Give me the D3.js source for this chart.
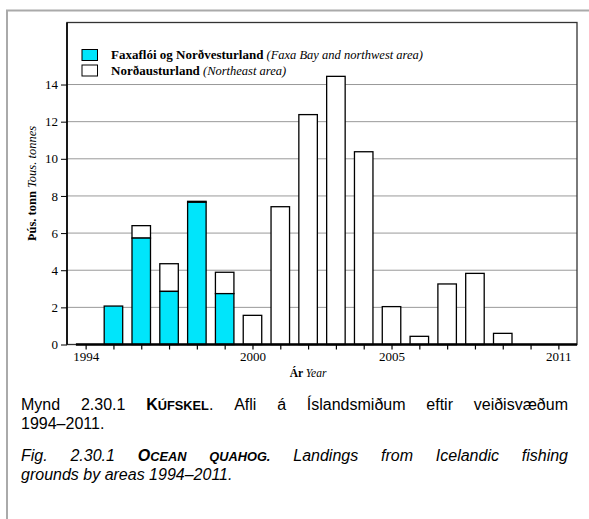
<!DOCTYPE html>
<html><head><meta charset="utf-8">
<script src="https://cdn.jsdelivr.net/npm/d3@7"></script>
<style>body{margin:0;background:#fff}svg{display:block}</style>
</head><body>
<svg id="c" width="589" height="519"></svg>
<script>
const years = [1994,1995,1996,1997,1998,1999,2000,2001,2002,2003,2004,2005,2006,2007,2008,2009,2010,2011];
const faxafloi = [0,2.07,5.73,2.86,7.66,2.74,0,0,0,0,0,0,0,0,0,0,0,0];
const nordaustur = [0,0,0.67,1.49,0.05,1.15,1.57,7.42,12.38,14.44,10.38,2.04,0.44,3.26,3.83,0.60,0,0];
const yTicks = [0,2,4,6,8,10,12,14];
const xLabels = [1994,2000,2005,2011];

const svg = d3.select("#c");
const serif = "'Liberation Serif','Times New Roman',serif";
const sans = "'Liberation Sans',Arial,sans-serif";

// outer frame
svg.append("path").attr("d","M7,519 V10.5 H589").attr("fill","none").attr("stroke","#aaa").attr("stroke-width",2);

const L=67, R=577, T=22.5, B=344.5;
const x = d3.scaleLinear().domain([1993.33,2011.67]).range([L,R]);
const y = d3.scaleLinear().domain([0,17.34]).range([B,T]);
const bw = 18.5;

// gridlines
svg.append("g").selectAll("line").data(yTicks.filter(d=>d>0)).join("line")
  .attr("x1",L).attr("x2",R).attr("y1",d=>y(d)).attr("y2",d=>y(d))
  .attr("stroke","#999").attr("stroke-width",1);

// bars
const g = svg.append("g");
years.forEach((yr,i)=>{
  const a = faxafloi[i], b = nordaustur[i];
  if (a+b<=0) return;
  if (b>0) g.append("rect").attr("x",x(yr)-bw/2).attr("y",y(a+b)).attr("width",bw).attr("height",y(a)-y(a+b))
    .attr("fill","#fff").attr("stroke","#000").attr("stroke-width",1.3);
  if (a>0) g.append("rect").attr("x",x(yr)-bw/2).attr("y",y(a)).attr("width",bw).attr("height",y(0)-y(a))
    .attr("fill","#00e5fb").attr("stroke","#000").attr("stroke-width",1.3);
});

// plot frame
svg.append("rect").attr("x",L).attr("y",T).attr("width",R-L).attr("height",B-T)
  .attr("fill","none").attr("stroke","#333").attr("stroke-width",1.3);
svg.append("line").attr("x1",L).attr("x2",L).attr("y1",T).attr("y2",B).attr("stroke","#000").attr("stroke-width",1.6);

// y axis
const ya = svg.append("g").attr("transform",`translate(${L},0)`)
  .call(d3.axisLeft(y).tickValues(yTicks).tickSize(6).tickPadding(3).tickFormat(d3.format("d")));
ya.select(".domain").remove();
ya.attr("font-family",serif).attr("font-size",13);
ya.selectAll("text").attr("fill","#000");
ya.selectAll("line").attr("stroke","#000");

// x axis
svg.append("line").attr("x1",x(1993.65)).attr("x2",R).attr("y1",B).attr("y2",B).attr("stroke","#000").attr("stroke-width",2.5);
const xa = svg.append("g").attr("transform",`translate(0,${B})`)
  .call(d3.axisBottom(x).tickValues(years).tickSize(5).tickPadding(2).tickFormat(d=>xLabels.includes(d)?String(d):""));
xa.select(".domain").remove();
xa.attr("font-family",serif).attr("font-size",13);
xa.selectAll("text").attr("fill","#000");
xa.selectAll("line").attr("stroke","#000").attr("stroke-width",1.2);

// axis titles
const xt = svg.append("text").attr("x",308).attr("y",377).attr("text-anchor","middle").attr("font-family",serif).attr("font-size",11.5);
xt.append("tspan").attr("font-weight","bold").text("Ár ");
xt.append("tspan").attr("font-style","italic").text("Year");
const yt = svg.append("text").attr("transform",`translate(36,${(T+B)/2}) rotate(-90)`).attr("text-anchor","middle").attr("font-family",serif).attr("font-size",12.5);
yt.append("tspan").attr("font-weight","bold").text("Þús. tonn ");
yt.append("tspan").attr("font-style","italic").text("Tous. tonnes");

// legend
const legend = [
  {fill:"#00e5fb", b:"Faxaflói og Norðvesturland", i:" (Faxa Bay and northwest area)"},
  {fill:"#fff", b:"Norðausturland", i:" (Northeast area)"}
];
legend.forEach((d,k)=>{
  const yy = 49.5 + k*15.5;
  svg.append("rect").attr("x",82).attr("y",yy).attr("width",15.5).attr("height",11).attr("fill",d.fill).attr("stroke","#000").attr("stroke-width",1);
  const t = svg.append("text").attr("x",111).attr("y",yy+9.5).attr("font-family",serif).attr("font-size",13);
  t.append("tspan").attr("font-weight","bold").text(d.b);
  t.append("tspan").attr("font-style","italic").attr("font-size",12.5).text(d.i);
});

// caption (justified)
const captionLines = [
  {y:410, just:true, italic:false, words:[
    [{t:"Mynd"}],[{t:"2.30.1"}],[{t:"K",b:1},{t:"ÚFSKEL",b:1,sc:1},{t:"."}],[{t:"Afli"}],[{t:"á"}],[{t:"Íslandsmiðum"}],[{t:"eftir"}],[{t:"veiðisvæðum"}]]},
  {y:429, just:false, italic:false, words:[[{t:"1994–2011."}]]},
  {y:461, just:true, italic:true, words:[
    [{t:"Fig."}],[{t:"2.30.1"}],[{t:"O",b:1},{t:"CEAN",b:1,sc:1}],[{t:"QUAHOG.",b:1,sc:1}],[{t:"Landings"}],[{t:"from"}],[{t:"Icelandic"}],[{t:"fishing"}]]},
  {y:480, just:false, italic:true, words:[[{t:"grounds"}],[{t:"by"}],[{t:"areas"}],[{t:"1994–2011."}]]}
];
const CL=21, CR=568, fs=16;
captionLines.forEach(line=>{
  const nodes = line.words.map(w=>{
    const t = svg.append("text").attr("y",line.y).attr("font-family",sans).attr("font-size",fs)
      .attr("font-style",line.italic?"italic":"normal").attr("fill","#000");
    w.forEach(p=>t.append("tspan").attr("font-weight",p.b?"bold":"normal").attr("font-size",p.sc?fs*0.8:fs).text(p.t));
    return t;
  });
  const widths = nodes.map(n=>n.node().getComputedTextLength());
  const total = d3.sum(widths);
  const gap = line.just ? (CR-CL-total)/(nodes.length-1) : fs*0.278;
  let cx = CL;
  nodes.forEach((n,i)=>{n.attr("x",cx); cx += widths[i]+gap;});
});
</script>
</body></html>
